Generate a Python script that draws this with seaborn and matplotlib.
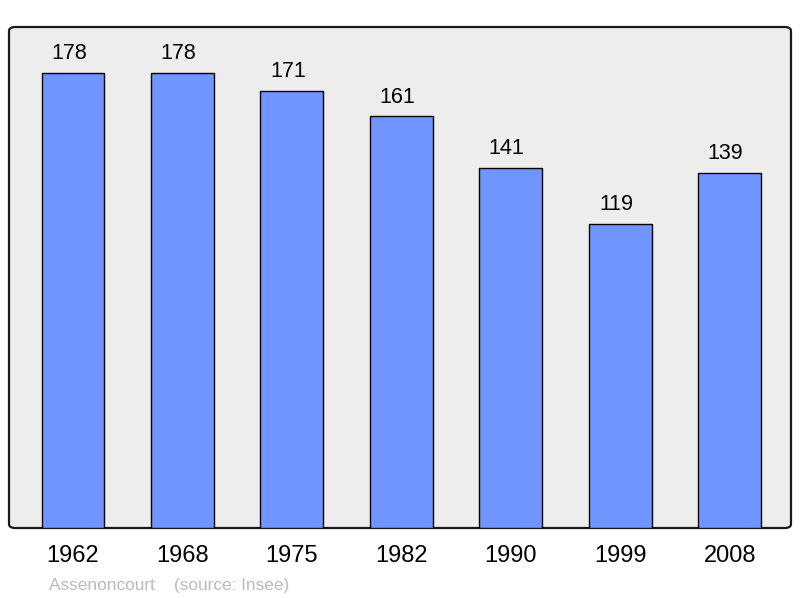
import matplotlib
matplotlib.use("Agg")
import matplotlib.pyplot as plt
import seaborn as sns
from matplotlib.patches import FancyBboxPatch

years = ["1962", "1968", "1975", "1982", "1990", "1999", "2008"]
population = [178, 178, 171, 161, 141, 119, 139]

sns.set_style("white")
plt.rcParams["font.family"] = ["Liberation Sans", "DejaVu Sans"]

fig = plt.figure(figsize=(8, 5.98), dpi=100)
ax = fig.add_axes([9 / 800, 1 - 528 / 598, 782 / 800, 501 / 598])
ax.set_facecolor("none")

# rounded grey frame
frame = FancyBboxPatch((0, 0), 1, 1, boxstyle="round,pad=0,rounding_size=0.008",
                       transform=ax.transAxes, facecolor="#ededed",
                       edgecolor="#1a1a1a", linewidth=1.6, zorder=0,
                       clip_on=False)
ax.add_patch(frame)

sns.barplot(x=years, y=population, color="#7095ff", saturation=1, width=0.575,
            edgecolor="black", linewidth=1.0, ax=ax, zorder=2)

for i, v in enumerate(population):
    ax.annotate(str(v), (i, v), xytext=(-3, 10), textcoords="offset points",
                ha="center", va="baseline", fontsize=15.5, color="black")

ax.set_xlim(-0.585, 6.56)
ax.set_ylim(0, 196)
ax.set_yticks([])
ax.set_xlabel("")
ax.set_ylabel("")
for s in ax.spines.values():
    s.set_visible(False)
ax.tick_params(axis="x", length=0, pad=12, labelsize=17, colors="black")

fig.text(49 / 800, 1 - 590 / 598, "Assenoncourt    (source: Insee)",
         fontsize=12.4, color="#bbbbbb", ha="left", va="baseline")

fig.savefig("out.png", dpi=100)
